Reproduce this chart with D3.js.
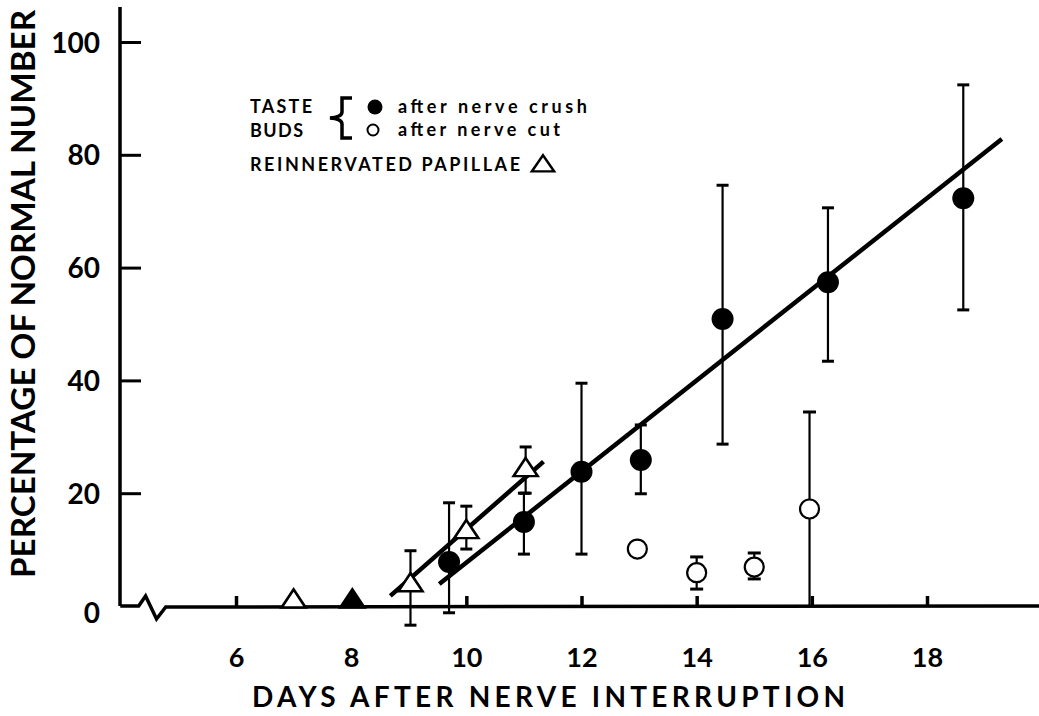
<!DOCTYPE html>
<html>
<head>
<meta charset="utf-8">
<script src="https://cdn.jsdelivr.net/npm/d3@7"></script>
<style>
  html, body { margin: 0; padding: 0; background: #fff; }
  svg { display: block; }
  text { font-family: Lato, "Liberation Sans", sans-serif; fill: #000; }
</style>
</head>
<body>
<svg id="chart" width="1039" height="716"></svg>
<script>
"use strict";

// taste buds after nerve crush (filled circles)
const crushDays = [9.7, 11.0, 12.0, 13.03, 14.45, 16.28, 18.63];
const crushPct = [7.8, 14.9, 23.8, 25.9, 50.9, 57.4, 72.3];
const crushLo = [-1.2, 9.2, 9.2, 19.9, 28.7, 43.4, 52.5];
const crushHi = [18.3, 20.0, 39.5, 32.1, 74.6, 70.6, 92.4];

// taste buds after nerve cut (open circles)
const cutDays = [12.97, 14.0, 15.0, 15.96];
const cutPct = [10.1, 5.9, 6.9, 17.2];
const cutLo = [null, 3.0, 4.8, 0];
const cutHi = [null, 8.7, 9.4, 34.4];

// reinnervated papillae (triangles)
const papDays = [7.0, 8.02, 9.03, 10.0, 11.03];
const papPct = [0.8, 0.8, 3.7, 13.1, 24.1];
const papLo = [null, null, -3.4, 10.1, 20.0];
const papHi = [null, null, 9.8, 17.7, 28.2];
const papFilled = [false, true, false, false, false];

// fitted lines [day, pct]
const crushFit = [[9.53, 3.9], [19.3, 82.8]];
const papFit = [[8.68, 1.8], [11.34, 25.6]];

const xTicks = [6, 8, 10, 12, 14, 16, 18];
const yTicks = [0, 20, 40, 60, 80, 100];

const xTitle = "DAYS AFTER NERVE INTERRUPTION";
const yTitle = "PERCENTAGE OF NORMAL NUMBER";

const svg = d3.select("#chart");
const x = d3.scaleLinear().domain([6, 18]).range([236, 927]);
const y = d3.scaleLinear().domain([0, 100]).range([606, 42]);

// ---- axes ----
const yAxis = d3.axisLeft(y).tickValues(yTicks).tickSize(-21).tickPadding(20);
const gy = svg.append("g").attr("transform", "translate(120,0)").call(yAxis);
gy.select(".domain").remove();
gy.selectAll(".tick line").attr("stroke", "#000").attr("stroke-width", 3);
gy.selectAll(".tick text")
  .style("font-size", "28px").style("font-weight", 700)
  .attr("dy", (d) => (d === 0 ? "0.6em" : "0.36em"));
gy.selectAll(".tick").filter((d) => d === 0).select("line").remove();

svg.append("line")
  .attr("x1", 120).attr("x2", 120).attr("y1", 7).attr("y2", y(0))
  .attr("stroke", "#000").attr("stroke-width", 3.5);

const xAxis = d3.axisBottom(x).tickValues(xTicks).tickSize(-10).tickPadding(42);
const gx = svg.append("g").attr("transform", `translate(0,${y(0)})`).call(xAxis);
gx.select(".domain").remove();
gx.selectAll(".tick line").attr("stroke", "#000").attr("stroke-width", 3.5);
gx.selectAll(".tick text").style("font-size", "27px").style("font-weight", 700);

// x axis baseline with a break near the origin
const y0 = y(0);
const brk = [
  [x(3.99), y0], [x(4.31), y0], [x(4.43), y0 - 10],
  [x(4.62), y0 + 13], [x(4.78), y0 + 1], [x(19.95), y0],
];
svg.append("path")
  .attr("d", d3.line()(brk))
  .attr("fill", "none").attr("stroke", "#000").attr("stroke-width", 3.5)
  .attr("stroke-linejoin", "miter");

// titles
svg.append("text")
  .attr("x", 252).attr("y", 707)
  .attr("textLength", 593).attr("lengthAdjust", "spacing")
  .style("font-size", "28px").style("font-weight", 700)
  .text(xTitle);

svg.append("text")
  .attr("transform", "translate(35,578) rotate(-90)")
  .attr("x", 0).attr("y", 0)
  .attr("textLength", 568).attr("lengthAdjust", "spacingAndGlyphs")
  .style("font-size", "33px").style("font-weight", 700)
  .text(yTitle);

// ---- fit lines ----
const line = d3.line().x((d) => x(d[0])).y((d) => y(d[1]));
[crushFit, papFit].forEach((f) => {
  svg.append("path").attr("d", line(f))
    .attr("fill", "none").attr("stroke", "#000").attr("stroke-width", 4.5);
});

// ---- error bars ----
function errorBars(days, lo, hi, capW) {
  const g = svg.append("g").attr("stroke", "#000").attr("stroke-width", 2.2);
  days.forEach((d, i) => {
    if (lo[i] == null) return;
    const cx = x(d);
    g.append("line").attr("x1", cx).attr("x2", cx).attr("y1", y(lo[i])).attr("y2", y(hi[i]));
    g.append("line").attr("x1", cx - capW).attr("x2", cx + capW)
      .attr("y1", y(hi[i])).attr("y2", y(hi[i])).attr("stroke-width", 3);
    if (Math.abs(lo[i]) > 0.1)
      g.append("line").attr("x1", cx - capW).attr("x2", cx + capW)
        .attr("y1", y(lo[i])).attr("y2", y(lo[i])).attr("stroke-width", 3);
  });
}
errorBars(crushDays, crushLo, crushHi, 6);
errorBars(cutDays, cutLo, cutHi, 6.5);
errorBars(papDays, papLo, papHi, 6);

// ---- markers ----
const tri = d3.symbol().type(d3.symbolTriangle);
svg.append("g").selectAll("path").data(papDays).enter().append("path")
  .attr("d", tri.size(190)())
  .attr("transform", (d, i) => `translate(${x(d)},${y(papPct[i])}) scale(1.15,1)`)
  .attr("fill", (d, i) => (papFilled[i] ? "#000" : "#fff"))
  .attr("stroke", "#000").attr("stroke-width", 2.4);

svg.append("g").selectAll("circle").data(cutDays).enter().append("circle")
  .attr("cx", (d) => x(d)).attr("cy", (d, i) => y(cutPct[i])).attr("r", 9.5)
  .attr("fill", "#fff").attr("stroke", "#000").attr("stroke-width", 2.2);

svg.append("g").selectAll("circle").data(crushDays).enter().append("circle")
  .attr("cx", (d) => x(d)).attr("cy", (d, i) => y(crushPct[i])).attr("r", 11)
  .attr("fill", "#000");

// ---- legend ----
const lg = svg.append("g");
const caps = (t, xx, yy, len) =>
  lg.append("text").attr("x", xx).attr("y", yy)
    .attr("textLength", len).attr("lengthAdjust", "spacing")
    .style("font-size", "18px").style("font-weight", 700).text(t);
caps("TASTE", 250, 113, 62);
caps("BUDS", 250, 137, 53);
caps("REINNERVATED PAPILLAE", 250, 171, 270);
lg.append("path")
  .attr("d", "M352,98 L342,98 L342,112 Q342,117 330,118 Q342,119 342,124 L342,138 L352,138")
  .attr("fill", "none").attr("stroke", "#000").attr("stroke-width", 3.5);
lg.append("circle").attr("cx", 375).attr("cy", 107).attr("r", 7.5).attr("fill", "#000");
lg.append("circle").attr("cx", 373).attr("cy", 130).attr("r", 5.5)
  .attr("fill", "#fff").attr("stroke", "#000").attr("stroke-width", 2);
lg.append("text").attr("x", 398).attr("y", 113)
  .attr("textLength", 189).attr("lengthAdjust", "spacing")
  .style("font-size", "18px").style("font-weight", 700).text("after nerve crush");
lg.append("text").attr("x", 398).attr("y", 136)
  .attr("textLength", 162).attr("lengthAdjust", "spacing")
  .style("font-size", "18px").style("font-weight", 700).text("after nerve cut");
lg.append("path")
  .attr("d", tri.size(150)())
  .attr("transform", "translate(543,166) scale(1.2,1)")
  .attr("fill", "none").attr("stroke", "#000").attr("stroke-width", 2.2);
</script>
</body>
</html>
